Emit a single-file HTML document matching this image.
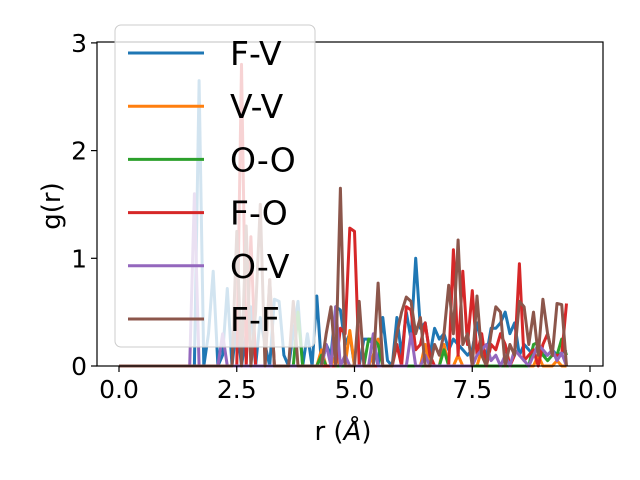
<!DOCTYPE html>
<html><head><meta charset="utf-8"><style>
body{margin:0;background:#fff}
svg{display:block;font-family:"DejaVu Sans","Liberation Sans",sans-serif}
</style></head><body>
<svg id="chart" width="640" height="480">
<rect width="640" height="480" fill="#fff"/>
<g id="marks"></g>
<g id="axes"></g>
</svg>
<script>
const rStep = 0.1;
const seriesNames = ["F-V","V-V","O-O","F-O","O-V","F-F"];
const seriesColors = ["#1f77b4","#ff7f0e","#2ca02c","#d62728","#9467bd","#8c564b"];
const xTicks = [0,2.5,5,7.5,10];
const xTickLabels = ["0.0","2.5","5.0","7.5","10.0"];
const yTicks = [0,1,2,3];
const yTickLabels = ["0","1","2","3"];
const FV = [0,0,0,0,0,0,0,0,0,0,0,0,0,0,0,0,0,2.65,0,0.3,0.88,0,0.1,0.72,0,0.4,0,0.3,0.55,0,0.45,0.2,0,0.62,0.6,0.1,0,0.3,0.6,0,0.3,0,0.65,0,0.2,0.1,0.55,0.52,0.2,0.3,0,0,0.25,0.25,0.2,0,0.45,0.05,0,0.45,0.1,0.5,0.25,1.0,0.35,0.4,0.1,0.35,0.25,0.3,0.15,0.25,0.2,0.15,0.1,0.15,0.4,0.2,0.1,0.35,0.35,0.4,0.5,0.3,0.4,0.1,0.2,0.15,0.1,0.2,0.1,0.1,0.15,0.1,0.12,0.15];
const VV = [0,0,0,0,0,0,0,0,0,0,0,0,0,0,0,0,0,0,0,0,0,0,0,0,0,0,0,0,0,0,0,0,0,0,0,0,0,0,0,0,0,0,0,0.15,0,0,0.1,0,0,0.33,0,0,0,0,0.1,0.25,0,0,0,0,0,0,0,0,0,0.2,0,0,0,0.2,0,0,0.1,0,0,0,0,0.15,0,0,0,0,0,0,0,0,0,0,0,0.1,0,0,0,0.05,0,0];
const OO = [0,0,0,0,0,0,0,0,0,0,0,0,0,0,0,0,0,0,0,0,0,0,0,0,0,0,0,0,0,0,0,0,0,0,0,0,0,0,0.5,0,0,0,0,0.1,0,0,0,0,0,0,0,0,0,0.25,0.25,0.2,0,0,0,0,0,0,0,0,0,0,0,0,0,0.15,0,0,0,0,0,0,0,0,0,0,0,0,0,0,0,0,0,0,0.2,0.22,0.1,0.05,0.1,0.1,0.25,0.1];
const FO = [0,0,0,0,0,0,0,0,0,0,0,0,0,0,0,0,0,0,0,0,0,0,0,0,0,0,2.8,0,1.2,0,0,0,0.8,0,0,0,0,0,0,0,0,0,0,0,0,0,0,0.35,0.3,1.28,1.25,0,0,0,0,0,0,0,0,0.2,0,0.55,0.52,0.15,0.2,0.4,0.1,0,0,0,0,1.08,0.1,0.88,0.2,0.7,0.1,0.3,0,0.2,0.15,0.3,0.2,0,0.1,0.95,0.05,0.1,0.15,0,0.2,0.3,0.1,0.1,0.1,0.58];
const OV = [0,0,0,0,0,0,0,0,0,0,0,0,0,0,0,0,1.6,0,0,0,0,0,0.3,0,0,0,0,0,0,0,0,0,0,0,0,0,0,0,0,0,0,0,0,0,0.2,0,0.55,0,0.1,0,0,0,0,0,0.3,0,0,0,0,0,0,0,0.3,0,0,0.1,0,0,0,0,0,0,0,0,0,0,0.1,0.15,0.2,0.05,0.1,0,0.1,0,0.15,0.1,0.05,0,0.1,0.2,0.15,0.1,0.15,0.05,0.12,0];
const FF = [0,0,0,0,0,0,0,0,0,0,0,0,0,0,0,0,0,0,0,0,0,0,0,0,0,1.25,0,1.3,0,0.5,1.5,0,0.8,0,0,0,0,0.6,0,0,0,0,0,0,0.3,0.55,0,1.65,0,0,0,0.6,0,0,0,0.77,0,0,0,0.3,0.5,0.64,0.6,0.3,0.45,0,0,0.2,0.1,0.3,0.75,0.3,1.17,0.2,0.3,0,0.65,0.1,0,0.3,0.55,0.5,0,0.2,0.1,0.6,0.55,0.2,0.5,0.1,0.62,0.3,0.1,0.58,0.57,0];
const seriesData = [FV,VV,OO,FO,OV,FF];

const NS="http://www.w3.org/2000/svg";
const X0=97,X1=603,Y0=366,Y1=42;
function xs(v){return 119+v*47.1;}
function ys(v){return 366-v*107.7;}
function mk(t,a,p){const e=document.createElementNS(NS,t);for(const k in a)e.setAttribute(k,a[k]);p.appendChild(e);return e;}
const marks=document.getElementById('marks');
seriesData.forEach((d,si)=>{
  const pts=d.map((v,i)=>xs(i*rStep).toFixed(1)+","+ys(v).toFixed(1)).join(" ");
  const pl=mk('polyline',{points:pts,fill:'none',stroke:seriesColors[si],'stroke-width':3,'stroke-linejoin':'round'},marks);
  
  
});
const ax=document.getElementById('axes');
const fr=mk('rect',{x:X0,y:Y1,width:X1-X0,height:Y0-Y1,fill:'none',stroke:'#000','stroke-width':1.2},ax);


xTicks.forEach((t,i)=>{
  mk('line',{x1:xs(t),x2:xs(t),y1:Y0,y2:Y0+6,stroke:'#000','stroke-width':1.2},ax);
  const tx=mk('text',{x:xs(t),y:Y0+32,'text-anchor':'middle','font-size':25},ax);
  tx.textContent=xTickLabels[i];
  
  
});
yTicks.forEach((t,i)=>{
  mk('line',{x1:X0,x2:X0-6,y1:ys(t),y2:ys(t),stroke:'#000','stroke-width':1.2},ax);
  const tx=mk('text',{x:X0-10,y:ys(t)+9,'text-anchor':'end','font-size':25},ax);
  tx.textContent=yTickLabels[i];
  
  
});
const xl=mk('text',{x:343,y:440,'text-anchor':'middle','font-size':26},ax);
xl.innerHTML='r (<tspan font-style="italic">Å</tspan>)';


const yl=mk('text',{x:60,y:206,'text-anchor':'middle','font-size':26,transform:'rotate(-90 60 206)'},ax);
yl.textContent='g(r)';


const lg=mk('g',{},ax);


mk('rect',{x:115,y:25,width:200,height:322,rx:6,fill:'rgba(255,255,255,0.8)',stroke:'#ccc','stroke-width':1},lg);
seriesNames.forEach((n,i)=>{
  const y=53+i*53.2;
  const ln=mk('line',{x1:128,x2:204,y1:y,y2:y,stroke:seriesColors[i],'stroke-width':3},lg);
  
  
  const tx=mk('text',{x:230,y:y+12,'font-size':33},lg);
  tx.textContent=n;
  
  
});
</script>
</body></html>
